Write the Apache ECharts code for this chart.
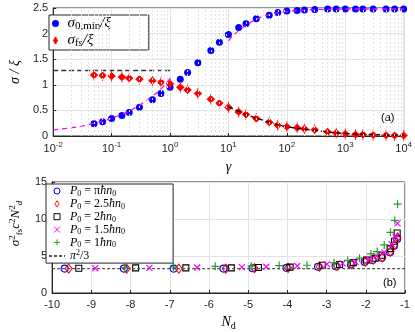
<!DOCTYPE html>
<html>
<head>
<meta charset="utf-8">
<script src="https://cdn.jsdelivr.net/npm/echarts@6/dist/echarts.min.js"></script>
<style>
  html, body { margin: 0; padding: 0; background: #fff; }
  #chart { width: 415px; height: 332px; }
</style>
</head>
<body>
<div id="chart"></div>
<script>
// panel (a): widths vs gamma
const gamma = [0.05, 0.07, 0.1, 0.15, 0.2, 0.3, 0.5, 0.7, 1, 1.5, 2, 3, 5, 7, 10, 15, 20, 30, 50, 70, 100,
    150, 200, 300, 500, 700, 1000, 1500, 2000, 3000, 5000, 7000, 10000]
const sigma0min = [0.24, 0.28, 0.34, 0.40, 0.46, 0.56, 0.71, 0.83, 0.95, 1.11, 1.24, 1.43, 1.67, 1.83, 1.98, 2.12, 2.19, 2.29, 2.36, 2.41, 2.44,
    2.45, 2.46, 2.47, 2.48, 2.48, 2.48, 2.48, 2.48, 2.48, 2.48, 2.48, 2.48]
const sigmaFs = [1.19, 1.18, 1.17, 1.15, 1.13, 1.11, 1.08, 1.05, 1.02, 0.95, 0.90, 0.83, 0.72, 0.64, 0.56, 0.47, 0.42, 0.34, 0.27, 0.21, 0.18,
    0.16, 0.14, 0.12, 0.08, 0.06, 0.04, 0.03, 0.03, 0.02, 0.015, 0.01, 0.01]
// asymptotic curves
const fitLowX = [0.01, 0.02, 0.03, 0.05, 0.07, 0.1, 0.15, 0.2, 0.3, 0.5, 0.7, 1]
const fitLowY = [0.12, 0.16, 0.19, 0.25, 0.29, 0.35, 0.42, 0.49, 0.60, 0.78, 0.92, 1.12]
const fitHighX = [10, 15, 20, 30, 50, 100, 200, 500, 1000, 10000]
const fitHighY = [1.86, 2.06, 2.16, 2.28, 2.37, 2.43, 2.46, 2.475, 2.48, 2.48]
const plateauX = [0.01, 1]
const plateauY = [1.28, 1.28]
const tailX = [10, 15, 20, 30, 50, 70, 100, 200, 300, 500, 1000, 2000, 5000, 10000]
const tailY = [0.57, 0.48, 0.42, 0.35, 0.27, 0.22, 0.18, 0.13, 0.11, 0.08, 0.05, 0.035, 0.02, 0.015]

// panel (b): scaled variance vs N_d
const ndPi = [-9.68, -8.17, -6.9, -5.63, -4.89, -4.02, -3.22, -2.77, -2.38, -2.03, -1.83, -1.59, -1.38, -1.28, -1.2]
const valPi = [3.3, 3.3, 3.3, 3.3, 3.35, 3.4, 3.55, 3.6, 3.85, 4.2, 4.45, 4.75, 5.5, 6.4, 7.3]
const nd25 = [-9.58, -8.1, -6.77, -5.57, -4.84, -3.98, -3.18, -2.73, -2.36, -2.01, -1.81, -1.58, -1.37, -1.27, -1.19]
const val25 = [3.3, 3.3, 3.3, 3.3, 3.35, 3.4, 3.55, 3.65, 3.9, 4.25, 4.5, 4.8, 5.6, 6.5, 7.5]
const nd2 = [-9.32, -7.87, -6.59, -5.43, -4.74, -3.93, -3.11, -2.67, -2.32, -1.98, -1.76, -1.59, -1.38, -1.27, -1.2]
const val2 = [3.35, 3.4, 3.4, 3.4, 3.45, 3.5, 3.75, 3.85, 4.1, 4.45, 4.7, 5.1, 6.0, 7.0, 8.1]
const nd15 = [-8.9, -7.52, -6.3, -5.16, -4.54, -3.75, -2.99, -2.59, -2.26, -1.91, -1.73, -1.53, -1.34, -1.24, -1.19]
const val15 = [3.35, 3.4, 3.45, 3.5, 3.55, 3.65, 3.9, 4.0, 4.2, 4.6, 5.0, 5.5, 6.6, 7.6, 9.4]
const nd1 = [-8.15, -6.9, -5.84, -4.92, -4.21, -3.5, -2.81, -2.46, -2.16, -1.87, -1.71, -1.53, -1.37, -1.26, -1.19]
const val1 = [3.4, 3.5, 3.6, 3.65, 3.7, 3.75, 4.1, 4.4, 4.7, 5.3, 5.6, 6.5, 8.2, 9.8, 12.0]
const piLineX = [-10, -1]
const piLineY = [3.29, 3.29]

const zip = (xs, ys) => xs.map((x, i) => [x, ys[i]])

const axisColor = '#262626'
const gridColor = '#e3e3e3'
const sans = 'Liberation Sans'
const serif = 'Liberation Serif'

// minor grid lines for the log axis (2..9 in every decade)
const minorX = []
for (let d = -2; d < 4; d++) {
    for (let k = 2; k <= 9; k++) {
        minorX.push(k * Math.pow(10, d))
    }
}

function mathRich(size, lh) {
    const sub = Math.round(size * 0.7)
    return {
        i: { fontFamily: serif, fontStyle: 'italic', fontSize: size, lineHeight: lh, color: '#000' },
        r: { fontFamily: serif, fontSize: size, lineHeight: lh, color: '#000' },
        s: { fontFamily: serif, fontSize: sub, lineHeight: sub, verticalAlign: 'bottom', color: '#000' },
        si: { fontFamily: serif, fontStyle: 'italic', fontSize: sub, lineHeight: sub, verticalAlign: 'bottom', color: '#000' },
        p: { fontFamily: serif, fontSize: sub, lineHeight: sub, verticalAlign: 'top', color: '#000' }
    }
}

const legendLabels = {
    'sigma0': '{i|σ}{s|0,min}{i|/ξ}',
    'sigmaFs': '{i|σ}{s|fs}{i|/ξ}',
    'pPi': '{i|P}{s|0}{r| = π}{i|ħn}{s|0}',
    'p25': '{i|P}{s|0}{r| = 2.5}{i|ħn}{s|0}',
    'p2': '{i|P}{s|0}{r| = 2}{i|ħn}{s|0}',
    'p15': '{i|P}{s|0}{r| = 1.5}{i|ħn}{s|0}',
    'p1': '{i|P}{s|0}{r| = 1}{i|ħn}{s|0}',
    'piLine': '{i|π}{p|2}{r|/3}'
}

const chart = echarts.init(document.getElementById('chart'))

const option = {
    animation: false,
    backgroundColor: '#fff',
    grid: [
        { left: 36, right: 10, top: 8, height: 128, show: true, borderColor: axisColor, borderWidth: 1 },
        { left: 36, right: 10, top: 182, height: 119, show: true, borderColor: axisColor, borderWidth: 1 }
    ],
    xAxis: [
        {
            gridIndex: 0,
            type: 'log',
            logBase: 10,
            min: 0.01,
            max: 10000,
            name: 'γ',
            nameLocation: 'middle',
            nameGap: 24,
            nameTextStyle: { fontFamily: serif, fontStyle: 'italic', fontSize: 14, color: '#000' },
            axisLine: { lineStyle: { color: axisColor } },
            axisTick: { inside: true, length: 3, lineStyle: { color: axisColor } },
            splitLine: { show: true, lineStyle: { color: gridColor } },
            axisLabel: {
                margin: 5,
                formatter: v => '{b|10}{e|' + Math.round(Math.log10(v)) + '}',
                rich: {
                    b: { fontFamily: sans, fontSize: 11, lineHeight: 15, color: axisColor },
                    e: { fontFamily: sans, fontSize: 8, lineHeight: 8, verticalAlign: 'top', color: axisColor }
                }
            }
        },
        {
            gridIndex: 1,
            type: 'value',
            min: -10,
            max: -1,
            interval: 1,
            name: '{i|N}{s|d}',
            nameLocation: 'middle',
            nameGap: 21,
            nameTextStyle: { rich: mathRich(14, 17) },
            axisLine: { lineStyle: { color: axisColor } },
            axisTick: { inside: true, length: 3, lineStyle: { color: axisColor } },
            splitLine: { show: true, lineStyle: { color: gridColor } },
            axisLabel: { margin: 6, fontFamily: sans, fontSize: 11, color: axisColor }
        }
    ],
    yAxis: [
        {
            gridIndex: 0,
            type: 'value',
            min: 0,
            max: 2.5,
            interval: 0.5,
            name: 'σ / ξ',
            nameLocation: 'middle',
            nameGap: 23,
            nameTextStyle: { fontFamily: serif, fontStyle: 'italic', fontSize: 14, color: '#000' },
            axisLine: { show: true, lineStyle: { color: axisColor } },
            axisTick: { show: true, inside: true, length: 3, lineStyle: { color: axisColor } },
            splitLine: { show: true, lineStyle: { color: gridColor } },
            axisLabel: { margin: 5, fontFamily: sans, fontSize: 11, color: axisColor }
        },
        {
            gridIndex: 1,
            type: 'value',
            min: 0,
            max: 15,
            interval: 5,
            name: '{i|σ}{p|2}{s|fs}{i|c}{p|2}{i|N}{p|2}{si|d}',
            nameLocation: 'middle',
            nameGap: 21,
            nameTextStyle: { rich: mathRich(13, 16), padding: [0, 0, 0, 28] },
            axisLine: { show: true, lineStyle: { color: axisColor } },
            axisTick: { show: true, inside: true, length: 3, lineStyle: { color: axisColor } },
            splitLine: { show: true, lineStyle: { color: gridColor } },
            axisLabel: { margin: 5, fontFamily: sans, fontSize: 11, color: axisColor }
        }
    ],
    legend: [
        {
            data: ['sigma0', 'sigmaFs'],
            orient: 'vertical',
            left: 49,
            top: 15,
            itemWidth: 14,
            itemHeight: 7,
            itemGap: 1,
            padding: [1, 38, 1, 3],
            backgroundColor: '#fff',
            borderColor: axisColor,
            borderWidth: 1,
            formatter: n => legendLabels[n],
            textStyle: { rich: mathRich(15, 17) }
        },
        {
            data: ['pPi', 'p25', 'p2', 'p15', 'p1', { name: 'piLine', itemStyle: { opacity: 0 } }],
            orient: 'vertical',
            left: 46,
            top: 184,
            itemWidth: 16,
            itemHeight: 6,
            itemGap: 0,
            padding: [1, 48, 1, 2],
            backgroundColor: '#fff',
            borderColor: axisColor,
            borderWidth: 1,
            itemStyle: { borderWidth: 1 },
            formatter: n => legendLabels[n],
            textStyle: { rich: mathRich(12, 13.7) }
        }
    ],
    graphic: [
        { type: 'text', left: 381, top: 112, style: { text: '(a)', font: '11px "Liberation Sans"', fill: '#000' } },
        { type: 'text', left: 383, top: 277, style: { text: '(b)', font: '11px "Liberation Sans"', fill: '#000' } }
    ],
    series: [
        {
            name: 'minorGrid',
            type: 'line',
            xAxisIndex: 0,
            yAxisIndex: 0,
            data: [],
            silent: true,
            markLine: {
                silent: true,
                symbol: 'none',
                label: { show: false },
                lineStyle: { color: '#e2e2e2', type: [2, 2], width: 1 },
                data: minorX.map(v => ({ xAxis: v }))
            }
        },
        {
            name: 'plateau',
            type: 'line',
            xAxisIndex: 0,
            yAxisIndex: 0,
            data: zip(plateauX, plateauY),
            showSymbol: false,
            lineStyle: { color: '#333', width: 1.6, type: [5, 3] }
        },
        {
            name: 'tail',
            type: 'line',
            xAxisIndex: 0,
            yAxisIndex: 0,
            data: zip(tailX, tailY),
            showSymbol: false,
            smooth: true,
            lineStyle: { color: '#000', width: 1.3, type: [5, 3] }
        },
        {
            name: 'sigma0',
            type: 'scatter',
            xAxisIndex: 0,
            yAxisIndex: 0,
            data: zip(gamma, sigma0min),
            symbol: 'circle',
            symbolSize: 7,
            itemStyle: { color: '#0000ff', opacity: 1 }
        },
        {
            name: 'sigmaFs',
            type: 'scatter',
            xAxisIndex: 0,
            yAxisIndex: 0,
            data: zip(gamma, sigmaFs),
            symbol: 'path://M0,-10L0,-6L4,0L0,6L0,10L0,6L-4,0L0,-6Z',
            symbolSize: [7, 11],
            itemStyle: { color: '#ff0000', borderColor: '#ff0000', borderWidth: 1, opacity: 1 }
        },
        {
            name: 'fitLow',
            type: 'line',
            xAxisIndex: 0,
            yAxisIndex: 0,
            data: zip(fitLowX, fitLowY),
            showSymbol: false,
            smooth: true,
            lineStyle: { color: '#ff00ff', width: 1.3, type: [5, 4] }
        },
        {
            name: 'fitHigh',
            type: 'line',
            xAxisIndex: 0,
            yAxisIndex: 0,
            data: zip(fitHighX, fitHighY),
            showSymbol: false,
            smooth: true,
            lineStyle: { color: '#ff00ff', width: 1.3, type: [5, 4] }
        },
        {
            name: 'piLine',
            type: 'line',
            xAxisIndex: 1,
            yAxisIndex: 1,
            data: zip(piLineX, piLineY),
            showSymbol: false,
            symbol: 'none',
            lineStyle: { color: '#555', width: 1.3, type: [3, 2] },
            itemStyle: { color: '#555' }
        },
        {
            name: 'pPi',
            type: 'scatter',
            xAxisIndex: 1,
            yAxisIndex: 1,
            data: zip(ndPi, valPi),
            symbol: 'circle',
            symbolSize: 7,
            itemStyle: { color: 'none', borderColor: '#0000ff', borderWidth: 1.1, opacity: 1 }
        },
        {
            name: 'p25',
            type: 'scatter',
            xAxisIndex: 1,
            yAxisIndex: 1,
            data: zip(nd25, val25),
            symbol: 'path://M5,0L10,7L5,14L0,7Z',
            symbolSize: [7, 9],
            itemStyle: { color: 'none', borderColor: '#ff0000', borderWidth: 1.1, opacity: 1 }
        },
        {
            name: 'p2',
            type: 'scatter',
            xAxisIndex: 1,
            yAxisIndex: 1,
            data: zip(nd2, val2),
            symbol: 'path://M0,0L10,0L10,10L0,10Z',
            symbolSize: 6,
            itemStyle: { color: 'none', borderColor: '#000', borderWidth: 1.1, opacity: 1 }
        },
        {
            name: 'p15',
            type: 'scatter',
            xAxisIndex: 1,
            yAxisIndex: 1,
            data: zip(nd15, val15),
            symbol: 'path://M0,0L10,10M0,10L10,0',
            symbolSize: 6,
            itemStyle: { color: 'none', borderColor: '#ff00ff', borderWidth: 1.2, opacity: 1 }
        },
        {
            name: 'p1',
            type: 'scatter',
            xAxisIndex: 1,
            yAxisIndex: 1,
            data: zip(nd1, val1),
            symbol: 'path://M5,0L5,10M0,5L10,5',
            symbolSize: 8,
            itemStyle: { color: 'none', borderColor: '#22a022', borderWidth: 1.2, opacity: 1 }
        }
    ]
}

chart.setOption(option)
</script>
</body>
</html>
